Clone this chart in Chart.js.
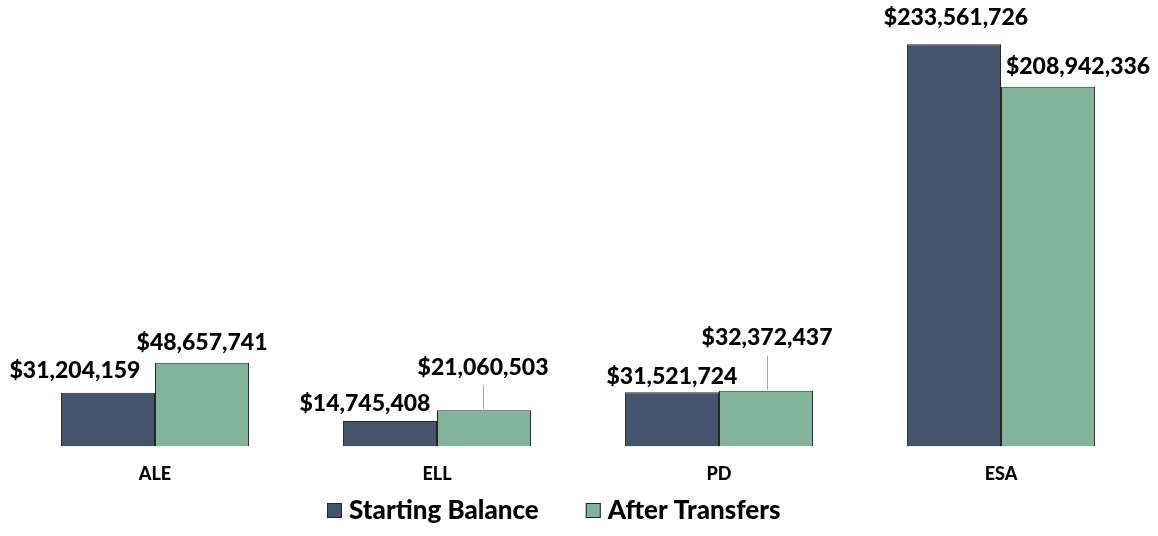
<!DOCTYPE html>
<html>
<head>
<meta charset="utf-8">
<script src="https://cdn.jsdelivr.net/npm/chart.js@4.4.1/dist/chart.umd.min.js"></script>
<style>
  html, body { margin: 0; padding: 0; background: #fff; }
  #wrap { width: 1158px; height: 536px; }
</style>
</head>
<body>
<div id="wrap"><canvas id="balance-chart"></canvas></div>
<script>
const categories = ["ALE", "ELL", "PD", "ESA"];
const startingBalance = [31204159, 14745408, 31521724, 233561726];
const afterTransfers = [48657741, 21060503, 32372437, 208942336];
const seriesNames = ["Starting Balance", "After Transfers"];

// label nudges (dx, dy from bar top) - labels were moved by hand in the original
const labelNudge = [
  [[-33, -22], [-25, -17], [0, -16], [2, -27]],
  [[0, -20], [-1, -43], [1, -53], [30, -20]],
];

const COLORS = ["#44546a", "#82b39b"];
const FONT = "Lato, 'DejaVu Sans', sans-serif";

const fmt = (v) => "$" + v.toLocaleString("en-US");

// value labels above bars, with leader line when moved far away
const valueLabels = {
  id: "valueLabels",
  afterDatasetsDraw(chart) {
    const { ctx } = chart;
    ctx.save();
    ctx.font = "900 23px " + FONT;
    ctx.textAlign = "center";
    ctx.textBaseline = "middle";
    chart.data.datasets.forEach((ds, i) => {
      chart.getDatasetMeta(i).data.forEach((bar, j) => {
        const [dx, dy] = labelNudge[i][j];
        const x = bar.x + dx;
        const y = bar.y + dy;
        if (dy < -35) {
          ctx.strokeStyle = "#a6a6a6";
          ctx.lineWidth = 1;
          ctx.beginPath();
          ctx.moveTo(Math.round(x) + 0.5, y + 18);
          ctx.lineTo(Math.round(x) + 0.5, bar.y - 1);
          ctx.stroke();
        }
        ctx.fillStyle = "#000";
        ctx.fillText(fmt(ds.data[j]), x, y);
      });
    });
    ctx.restore();
  },
};

// legend drawn by hand so spacing matches the original
const bottomLegend = {
  id: "bottomLegend",
  afterDraw(chart) {
    const { ctx } = chart;
    ctx.save();
    ctx.font = "900 26px " + FONT;
    ctx.textBaseline = "middle";
    ctx.textAlign = "left";
    let x = 327;
    const y = 511;
    chart.data.datasets.forEach((ds) => {
      ctx.fillStyle = ds.backgroundColor;
      ctx.fillRect(x, y - 8, 15, 15);
      ctx.strokeStyle = "#262626";
      ctx.lineWidth = 1;
      ctx.strokeRect(x + 0.5, y - 7.5, 14, 14);
      ctx.fillStyle = "#000";
      ctx.fillText(ds.label, x + 22, y);
      x += 22 + ctx.measureText(ds.label).width + 47;
    });
    ctx.restore();
  },
};

const ctx = document.getElementById("balance-chart").getContext("2d");

new Chart(ctx, {
  type: "bar",
  data: {
    labels: categories,
    datasets: [
      {
        label: seriesNames[0],
        data: startingBalance,
        backgroundColor: COLORS[0],
        borderColor: "#262626",
        borderWidth: 1,
      },
      {
        label: seriesNames[1],
        data: afterTransfers,
        backgroundColor: COLORS[1],
        borderColor: "#262626",
        borderWidth: 1,
      },
    ],
  },
  options: {
    responsive: true,
    maintainAspectRatio: false,
    animation: false,
    layout: {
      padding: { left: 14, right: 16, top: 16, bottom: 34 },
    },
    datasets: {
      bar: { barPercentage: 1, categoryPercentage: 0.667 },
    },
    plugins: {
      legend: { display: false },
      tooltip: { enabled: false },
    },
    scales: {
      x: {
        grid: { display: false, drawTicks: false },
        border: { display: false },
        ticks: {
          padding: 17,
          color: "#000",
          font: { family: FONT, size: 18, weight: "900" },
        },
      },
      y: {
        display: false,
        min: 0,
        max: 250000000,
      },
    },
  },
  plugins: [valueLabels, bottomLegend],
});
</script>
</body>
</html>
